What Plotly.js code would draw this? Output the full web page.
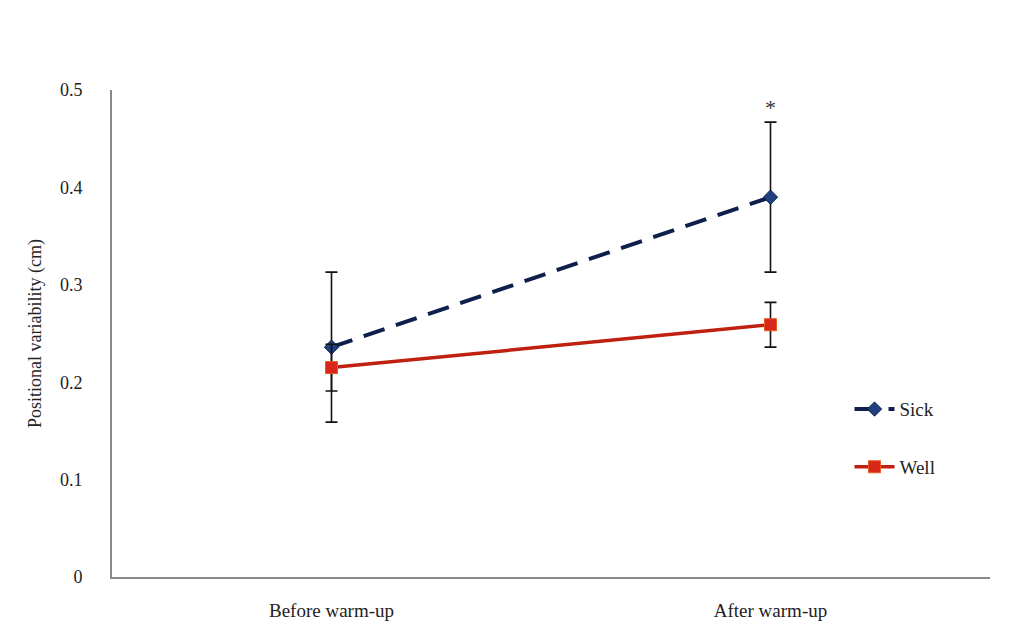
<!DOCTYPE html>
<html><head><meta charset="utf-8">
<script src="https://cdn.plot.ly/plotly-3.0.1.min.js"></script>
<style>html,body{margin:0;padding:0;background:#fff}#c{width:1019px;height:638px}</style>
</head><body><div id="c"></div>
<script>
const categories = ["Before warm-up", "After warm-up"];
const sickValues = [0.236, 0.390];
const sickErrors = [0.077, 0.077];
const wellValues = [0.215, 0.259];
const wellErrors = [0.024, 0.023];
const yTicks = [0, 0.1, 0.2, 0.3, 0.4, 0.5];
const yTickLabels = ["0", "0.1", "0.2", "0.3", "0.4", "0.5"];
const significance = {category: "After warm-up", y: 0.482, text: "*"};

const font = "Liberation Serif, Times New Roman, serif";
const traces = [
  {x: categories, y: sickValues, name: "Sick", legendgroup: "a", type: "scatter", mode: "lines+markers",
   line: {color: "#0d1f4a", width: 4, dash: "22px,12px"},
   marker: {symbol: "diamond", size: 11, color: "#1f3f7f", line: {color: "#0d1f4a", width: 1}},
   error_y: {type: "data", array: sickErrors, visible: true, color: "#111", thickness: 1.6, width: 6}},
  {x: categories, y: wellValues, name: "Well", legendgroup: "b", type: "scatter", mode: "lines+markers",
   line: {color: "#c0200f", width: 3.5},
   marker: {symbol: "square", size: 12, color: "#d8261a", line: {color: "#e85a20", width: 1}},
   error_y: {type: "data", array: wellErrors, visible: true, color: "#111", thickness: 1.6, width: 6}}
];
const layout = {
  width: 1019, height: 638,
  margin: {l: 112, r: 29, t: 90, b: 61},
  paper_bgcolor: "#fff", plot_bgcolor: "#fff",
  showlegend: true,
  font: {family: font, color: "#222", size: 18},
  xaxis: {type: "category", range: [-0.5, 1.5], showgrid: false, zeroline: false,
          showline: true, linecolor: "#8a8a8a", linewidth: 2, ticks: "",
          ticklabelstandoff: 15, tickfont: {family: font, size: 19, color: "#222"}},
  yaxis: {range: [0, 0.5], tickvals: yTicks, ticktext: yTickLabels, showgrid: false, zeroline: false,
          showline: true, linecolor: "#8a8a8a", linewidth: 2, ticks: "",
          ticklabelstandoff: 24, tickfont: {family: font, size: 18, color: "#222"},
          title: {text: "Positional variability (cm)", font: {family: font, size: 18, color: "#222"}, standoff: 14}},
  legend: {x: 0.84, y: 0.285, xanchor: "left", yanchor: "middle", bgcolor: "rgba(0,0,0,0)",
           font: {family: font, size: 19, color: "#222"}, tracegroupgap: 30, itemwidth: 40},
  annotations: [{x: significance.category, y: significance.y, xref: "x", yref: "y",
                 text: significance.text, showarrow: false, font: {family: font, size: 22, color: "#333"}}]
};
Plotly.newPlot("c", traces, layout, {displayModeBar: false, staticPlot: true});
</script></body></html>
